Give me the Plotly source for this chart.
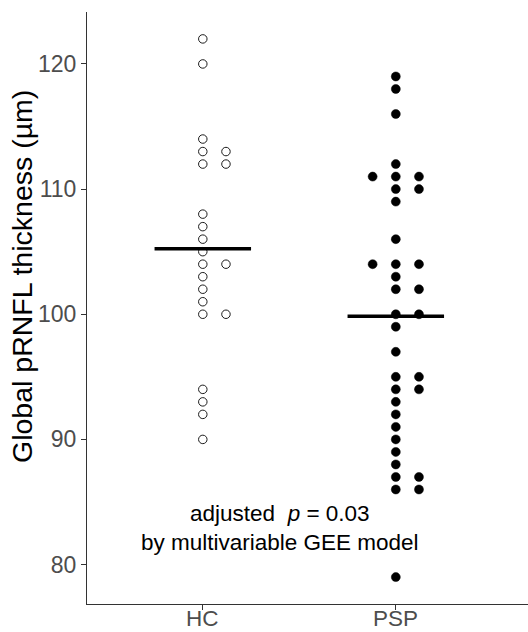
import plotly.graph_objects as go
from collections import Counter

# ---- data ----
groups = ["HC", "PSP"]
hc_values = [122, 120, 114, 113, 113, 112, 112, 108, 107, 106, 105, 104, 104,
             103, 102, 101, 100, 100, 94, 93, 92, 90]
psp_values = [119, 118, 116, 112, 111, 111, 111, 110, 110, 109, 106, 104, 104,
              104, 103, 102, 102, 100, 100, 99, 97, 95, 95, 94, 94, 93, 92, 91,
              90, 89, 88, 87, 87, 86, 86, 79]
y_ticks = [80, 90, 100, 110, 120]

DOT_STEP = 0.12    # horizontal spacing between stacked dots (x units)
HALF_WIDTH = 0.25  # half-width of mean bar


def stack_positions(values, center):
    """dotplot 'centerwhole' stacking: n dots at offsets j - floor((n-1)/2)."""
    counts = Counter(values)
    xs, ys = [], []
    for v, n in counts.items():
        start = -((n - 1) // 2)
        for j in range(n):
            xs.append(center + (start + j) * DOT_STEP)
            ys.append(v)
    return xs, ys


fig = go.Figure()

hx, hy = stack_positions(hc_values, 1)
fig.add_trace(go.Scatter(
    x=hx, y=hy, mode="markers",
    marker=dict(size=8.5, color="white", line=dict(color="#1a1a1a", width=1)),
    showlegend=False, hoverinfo="y"))

px_, py_ = stack_positions(psp_values, 2)
fig.add_trace(go.Scatter(
    x=px_, y=py_, mode="markers",
    marker=dict(size=9, color="black", line=dict(color="black", width=0.5)),
    showlegend=False, hoverinfo="y"))

for i, vals in enumerate([hc_values, psp_values]):
    m = sum(vals) / len(vals)
    c = i + 1
    fig.add_trace(go.Scatter(
        x=[c - HALF_WIDTH, c + HALF_WIDTH], y=[m, m], mode="lines",
        line=dict(color="black", width=3.5), showlegend=False, hoverinfo="skip"))

W, H = 528, 632
L, R, T, B = 87, 0, 12, 28
PLOT_H = H - T - B

# category labels placed just under the axis (as text annotations)
cat_labels = [
    dict(text=g, xref="x", yref="paper", x=i + 1, y=(H - B - 618) / PLOT_H,
         xanchor="center", yanchor="middle", showarrow=False, borderpad=0,
         font=dict(size=22.5, color="#4D4D4D"))
    for i, g in enumerate(groups)
]

fig.update_layout(
    width=W, height=H,
    margin=dict(l=L, r=R, t=T, b=B, autoexpand=False),
    plot_bgcolor="white", paper_bgcolor="white",
    font=dict(family="Liberation Sans, Arial, sans-serif"),
    xaxis=dict(
        range=[0.4, 2.685], tickvals=[1, 2], ticktext=groups,
        showticklabels=False,
        showgrid=False, zeroline=False, automargin=False,
        showline=True, linecolor="#333333", linewidth=1.2,
        ticks="outside", ticklen=5, tickcolor="#333333", tickwidth=1.1,
    ),
    yaxis=dict(
        range=[76.85, 124.15], tickvals=y_ticks,
        showgrid=False, zeroline=False, automargin=False,
        showline=True, linecolor="#333333", linewidth=1.2,
        ticks="outside", ticklen=5, tickcolor="#333333", tickwidth=1.1,
        tickfont=dict(size=23, color="#4D4D4D"),
    ),
    annotations=[
        dict(text="Global pRNFL thickness (µm)", textangle=-90,
             xref="paper", yref="paper",
             x=(22 - L) / (W - L - R), y=(H - B - 277) / PLOT_H,
             xanchor="center", yanchor="middle", showarrow=False,
             font=dict(size=28.5, color="black")),
        dict(text="adjusted  <i>p</i> = 0.03<br>by multivariable GEE model",
             xref="paper", yref="y", x=(280 - L) / (W - L - R), y=82.9,
             xanchor="center", yanchor="middle", showarrow=False,
             align="center",
             font=dict(size=22.5, color="black")),
    ] + cat_labels,
)

fig.write_html("out.html", config={"displayModeBar": False},
               post_script="document.body.style.margin='0';document.body.style.overflow='hidden';")
